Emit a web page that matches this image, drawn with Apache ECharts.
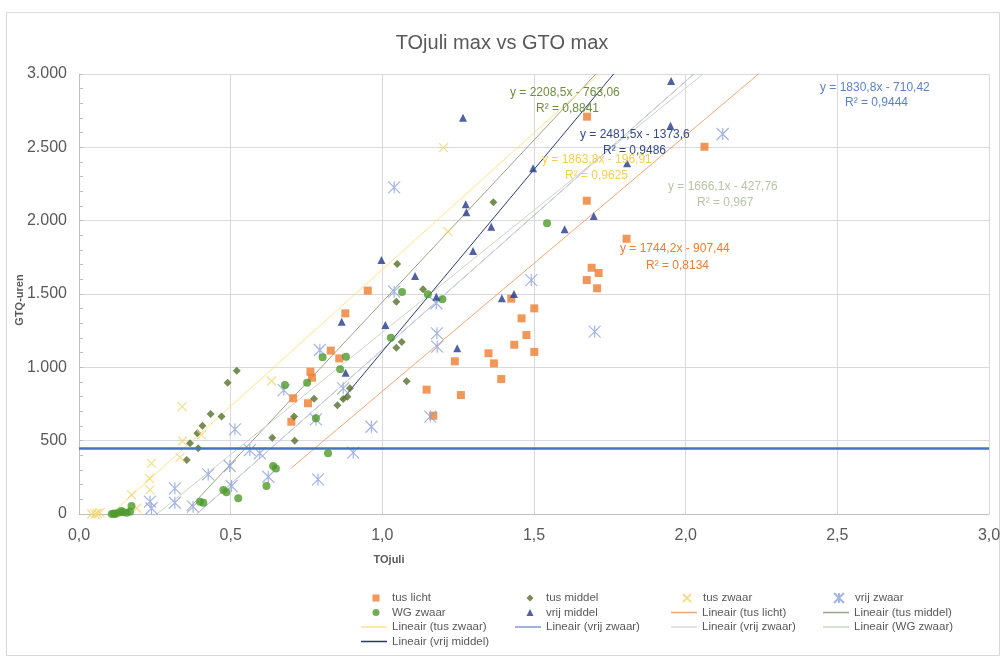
<!DOCTYPE html>
<html>
<head>
<meta charset="utf-8">
<script src="https://cdn.jsdelivr.net/npm/echarts@6/dist/echarts.min.js"></script>
<style>
html,body{margin:0;padding:0;background:#fff;}
#chart{width:1004px;height:662px;}
</style>
</head>
<body>
<div id="chart"></div>
<script>
// ---- data ----
const tusLicht = [[0.700,629],[0.706,789],[0.755,755],[0.763,970],[0.768,929],[0.830,1114],[0.858,1061],[0.878,1368],[0.952,1523],[1.146,848],[1.168,670],[1.239,1041],[1.259,811],[1.350,1096],[1.368,1027],[1.392,920],[1.425,1468],[1.435,1154],[1.459,1334],[1.475,1220],[1.501,1402],[1.501,1105],[1.674,1595],[1.674,2136],[1.675,2709],[1.690,1679],[1.708,1539],[1.713,1643],[1.805,1877],[2.062,2504]];
const tusMiddel = [[0.355,368],[0.366,482],[0.390,550],[0.393,448],[0.407,602],[0.434,682],[0.470,664],[0.490,895],[0.520,977],[0.637,520],[0.709,664],[0.711,500],[0.775,786],[0.852,741],[0.871,784],[0.885,800],[0.893,857],[1.046,1448],[1.046,1134],[1.049,1705],[1.064,1173],[1.080,905],[1.134,1532],[1.366,2125]];
const tusZwaar = [[0.042,0],[0.053,0],[0.060,5],[0.069,9],[0.173,130],[0.190,39],[0.232,243],[0.234,164],[0.239,345],[0.333,386],[0.340,732],[0.341,498],[0.404,539],[0.635,907],[1.202,2498],[1.216,1925]];
const vrijZwaar = [[0.234,84],[0.239,39],[0.316,175],[0.316,77],[0.376,50],[0.426,270],[0.497,327],[0.503,191],[0.514,577],[0.563,436],[0.596,414],[0.624,254],[0.675,845],[0.781,645],[0.788,236],[0.794,1118],[0.871,857],[0.904,418],[0.964,595],[1.039,2227],[1.039,1516],[1.158,664],[1.178,1437],[1.180,1232],[1.181,1141],[1.491,1595],[1.700,1243],[2.122,2591]];
const wgZwaar = [[0.108,0],[0.115,3],[0.119,0],[0.130,9],[0.140,20],[0.145,12],[0.157,9],[0.168,16],[0.173,55],[0.399,84],[0.410,77],[0.476,164],[0.486,148],[0.525,107],[0.618,191],[0.640,327],[0.649,311],[0.679,880],[0.752,895],[0.781,652],[0.803,1068],[0.821,414],[0.861,987],[0.880,1073],[1.028,1202],[1.065,1514],[1.150,1498],[1.198,1464],[1.543,1982]];
const vrijMiddel = [[0.866,1311],[0.879,963],[0.997,1732],[1.010,1289],[1.108,1623],[1.178,1482],[1.247,1130],[1.266,2702],[1.275,2112],[1.277,2057],[1.299,1793],[1.359,1959],[1.394,1471],[1.434,1500],[1.497,2357],[1.601,1941],[1.697,2032],[1.807,2391],[1.950,2647],[1.952,2952]];

// trend line coefficients [slope, intercept, R2]
const fitTusLicht = [1744.2, -907.44, '0,8134'];
const fitTusMiddel = [2208.5, -763.06, '0,8841'];
const fitTusZwaar = [1863.8, -196.91, '0,9625'];
const fitVrijZwaar = [1830.8, -710.42, '0,9444'];
const fitWgZwaar = [1666.1, -427.76, '0,967'];
const fitVrijMiddel = [2481.5, -1373.6, '0,9486'];

const thresholdValue = 450;
const xTicks = ['0,0','0,5','1,0','1,5','2,0','2,5','3,0'];
const yTicks = ['0','500','1.000','1.500','2.000','2.500','3.000'];
const X_MAX = 3, Y_MAX = 3000;

function trend(fit, pts){
  const a = fit[0], b = fit[1];
  const minX = Math.min.apply(null, pts.map(p => p[0]));
  const x0 = Math.max(minX, -b / a);
  const x1 = (Y_MAX - b) / a;
  return [[x0, a * x0 + b], [x1, a * x1 + b]];
}
function eqText(fit){
  const s = v => String(Math.abs(v)).replace('.', ',');
  return 'y = ' + s(fit[0]) + 'x - ' + s(fit[1]);
}

const FONT = '"Liberation Sans", "Noto Sans", sans-serif';
const GRAY = '#595959';
const crossPath = 'path://M0,0L10,10M10,0L0,10';
const asteriskPath = 'path://M0,0L10,10M10,0L0,10M5,0L5,10';

function scatter(name, data, symbol, size, color, stroke){
  return {name, type:'scatter', data, symbol, symbolSize:size, z:3,
    itemStyle: stroke ? {color:'rgba(0,0,0,0)', borderColor:color, borderWidth:1.2} : {color}};
}
function line(name, data, color, width){
  return {name, type:'line', data, symbol:'none', showSymbol:false, z:2, silent:true,
    lineStyle:{color, width: width || 1}, itemStyle:{color}};
}

const series = [
  scatter('tus licht', tusLicht, 'rect', 8, '#ed7d31'),
  scatter('tus middel', tusMiddel, 'diamond', 8, '#55712c'),
  scatter('tus zwaar', tusZwaar, crossPath, 9, '#f2d36b', true),
  scatter('vrij zwaar', vrijZwaar, asteriskPath, 12, '#8fa2d8', true),
  scatter('WG zwaar', wgZwaar, 'circle', 8, '#4e9a2c'),
  scatter('vrij middel', vrijMiddel, 'triangle', 8, '#24388c'),
  line('Lineair (tus licht)', trend(fitTusLicht, tusLicht), '#f2a675'),
  line('Lineair (tus middel)', trend(fitTusMiddel, tusMiddel), '#9ba38a'),
  line('Lineair (tus zwaar)', trend(fitTusZwaar, tusZwaar), '#ffe38a'),
  line('Lineair (vrij zwaar)', trend(fitVrijZwaar, vrijZwaar), '#8196da'),
  line('Lineair (vrij zwaar)\u200b', trend(fitVrijZwaar, vrijZwaar), '#d9d9d9'),
  line('Lineair (WG zwaar)', trend(fitWgZwaar, wgZwaar), '#cdd6c4'),
  line('Lineair (vrij middel)', trend(fitVrijMiddel, vrijMiddel), '#2b3a6e'),
  {name:'threshold', type:'line', data:[], silent:true,
   markLine:{silent:true, symbol:['none','none'], label:{show:false},
     lineStyle:{color:'#4472c4', width:2.5, type:'solid'},
     data:[{yAxis:thresholdValue}]}}
];

// legend layout: [name, column, row, kind, iconSize]
const legendItems = [
  ['tus licht',0,0,'s',7], ['tus middel',1,0,'s',7], ['tus zwaar',2,0,'s',8], ['vrij zwaar',3,0,'s',10],
  ['WG zwaar',0,1,'s',7], ['vrij middel',1,1,'s',7], ['Lineair (tus licht)',2,1,'l'], ['Lineair (tus middel)',3,1,'l'],
  ['Lineair (tus zwaar)',0,2,'l'], ['Lineair (vrij zwaar)',1,2,'l'], ['Lineair (vrij zwaar)\u200b',2,2,'l'], ['Lineair (WG zwaar)',3,2,'l'],
  ['Lineair (vrij middel)',0,3,'l']
];
const colTextX = [392, 546, 702, 854];
const rowY = [598, 612.5, 627, 641.5];
const legends = legendItems.map(it => {
  const tx = colTextX[it[1]], cy = rowY[it[2]];
  const base = {data:[it[3] === 'l' ? {name:it[0], icon:'rect'} : {name:it[0]}], orient:'horizontal',
    selectedMode:false, padding:0, top: cy - 7};
  if (it[3] === 'l') {
    return Object.assign(base, {left: tx - 31, itemWidth:26, itemHeight:1.5,
      textStyle:{color:GRAY, fontSize:11.5, fontFamily:FONT, lineHeight:14}});
  }
  const s = it[4];
  const cx = tx - 16;
  const pad = Math.max(0, tx - (cx + s / 2 + 5));
  return Object.assign(base, {left: cx - s / 2, itemWidth:s, itemHeight:s,
    formatter: n => '{t|' + n + '}',
    textStyle:{color:GRAY, fontSize:11.5, fontFamily:FONT, lineHeight:14,
      rich:{t:{color:GRAY, fontSize:11.5, fontFamily:FONT, lineHeight:14, padding:[0,0,0,pad]}}}});
});

const eqs = [
  [fitTusMiddel, 510, 93, 536, 109, '#6f8d3f'],
  [fitVrijMiddel, 580, 135, 603, 151, '#34488f'],
  [fitTusZwaar, 542, 160, 565, 176, '#f7cf4a'],
  [fitWgZwaar, 668, 187, 697, 203, '#b7c5a6'],
  [fitTusLicht, 620, 249, 646, 266, '#ed7d31'],
  [fitVrijZwaar, 820, 88, 845, 103, '#5b82c4']
];
const graphics = [
  {type:'rect', shape:{x:6.5, y:12.5, width:993, height:643}, style:{fill:'none', stroke:'#d9d9d9', lineWidth:1}, silent:true, z:-10},
  {type:'text', x:389, y:560, style:{text:'TOjuli', fill:GRAY, font:'bold 11px ' + FONT, align:'center', verticalAlign:'middle', textAlign:'center', textVerticalAlign:'middle'}},
  {type:'text', x:20, y:300, rotation:Math.PI/2, style:{text:'GTQ-uren', fill:GRAY, font:'bold 11px ' + FONT, align:'center', verticalAlign:'middle', textAlign:'center', textVerticalAlign:'middle'}}
];
eqs.forEach(e => {
  graphics.push({type:'text', x:e[1], y:e[2], z:10, style:{text:eqText(e[0]), fill:e[5], font:'12px ' + FONT, verticalAlign:'middle', textVerticalAlign:'middle'}});
  graphics.push({type:'text', x:e[3], y:e[4], z:10, style:{text:'R\u00b2 = ' + e[0][2], fill:e[5], font:'12px ' + FONT, verticalAlign:'middle', textVerticalAlign:'middle'}});
});

const chart = echarts.init(document.getElementById('chart'));
chart.setOption({
  animation:false,
  backgroundColor:'#fff',
  title:{text:'TOjuli max vs GTO max', left:'center', top:28, textStyle:{color:GRAY, fontSize:20, fontWeight:'normal', fontFamily:FONT}},
  grid:{left:79, right:15, top:74, bottom:148},
  legend: legends,
  xAxis:{type:'value', min:0, max:X_MAX, interval:0.5,
    axisLine:{show:true, lineStyle:{color:'#bfbfbf'}}, axisTick:{show:false},
    splitLine:{lineStyle:{color:'#d9d9d9'}},
    axisLabel:{color:GRAY, fontSize:16, fontFamily:FONT, margin:14, formatter:(v) => xTicks[Math.round(v / 0.5)]}},
  yAxis:{type:'value', min:0, max:Y_MAX, interval:500,
    axisLine:{show:true, lineStyle:{color:'#bfbfbf'}},
    axisTick:{show:true, inside:true, length:4, lineStyle:{color:'#bfbfbf'}},
    minorTick:{show:true, splitNumber:5, length:4, lineStyle:{color:'#bfbfbf'}},
    splitLine:{lineStyle:{color:'#d9d9d9'}},
    axisLabel:{color:GRAY, fontSize:16, fontFamily:FONT, margin:12, formatter:(v) => yTicks[Math.round(v / 500)]}},
  graphic: graphics,
  series: series
});
</script>
</body>
</html>
